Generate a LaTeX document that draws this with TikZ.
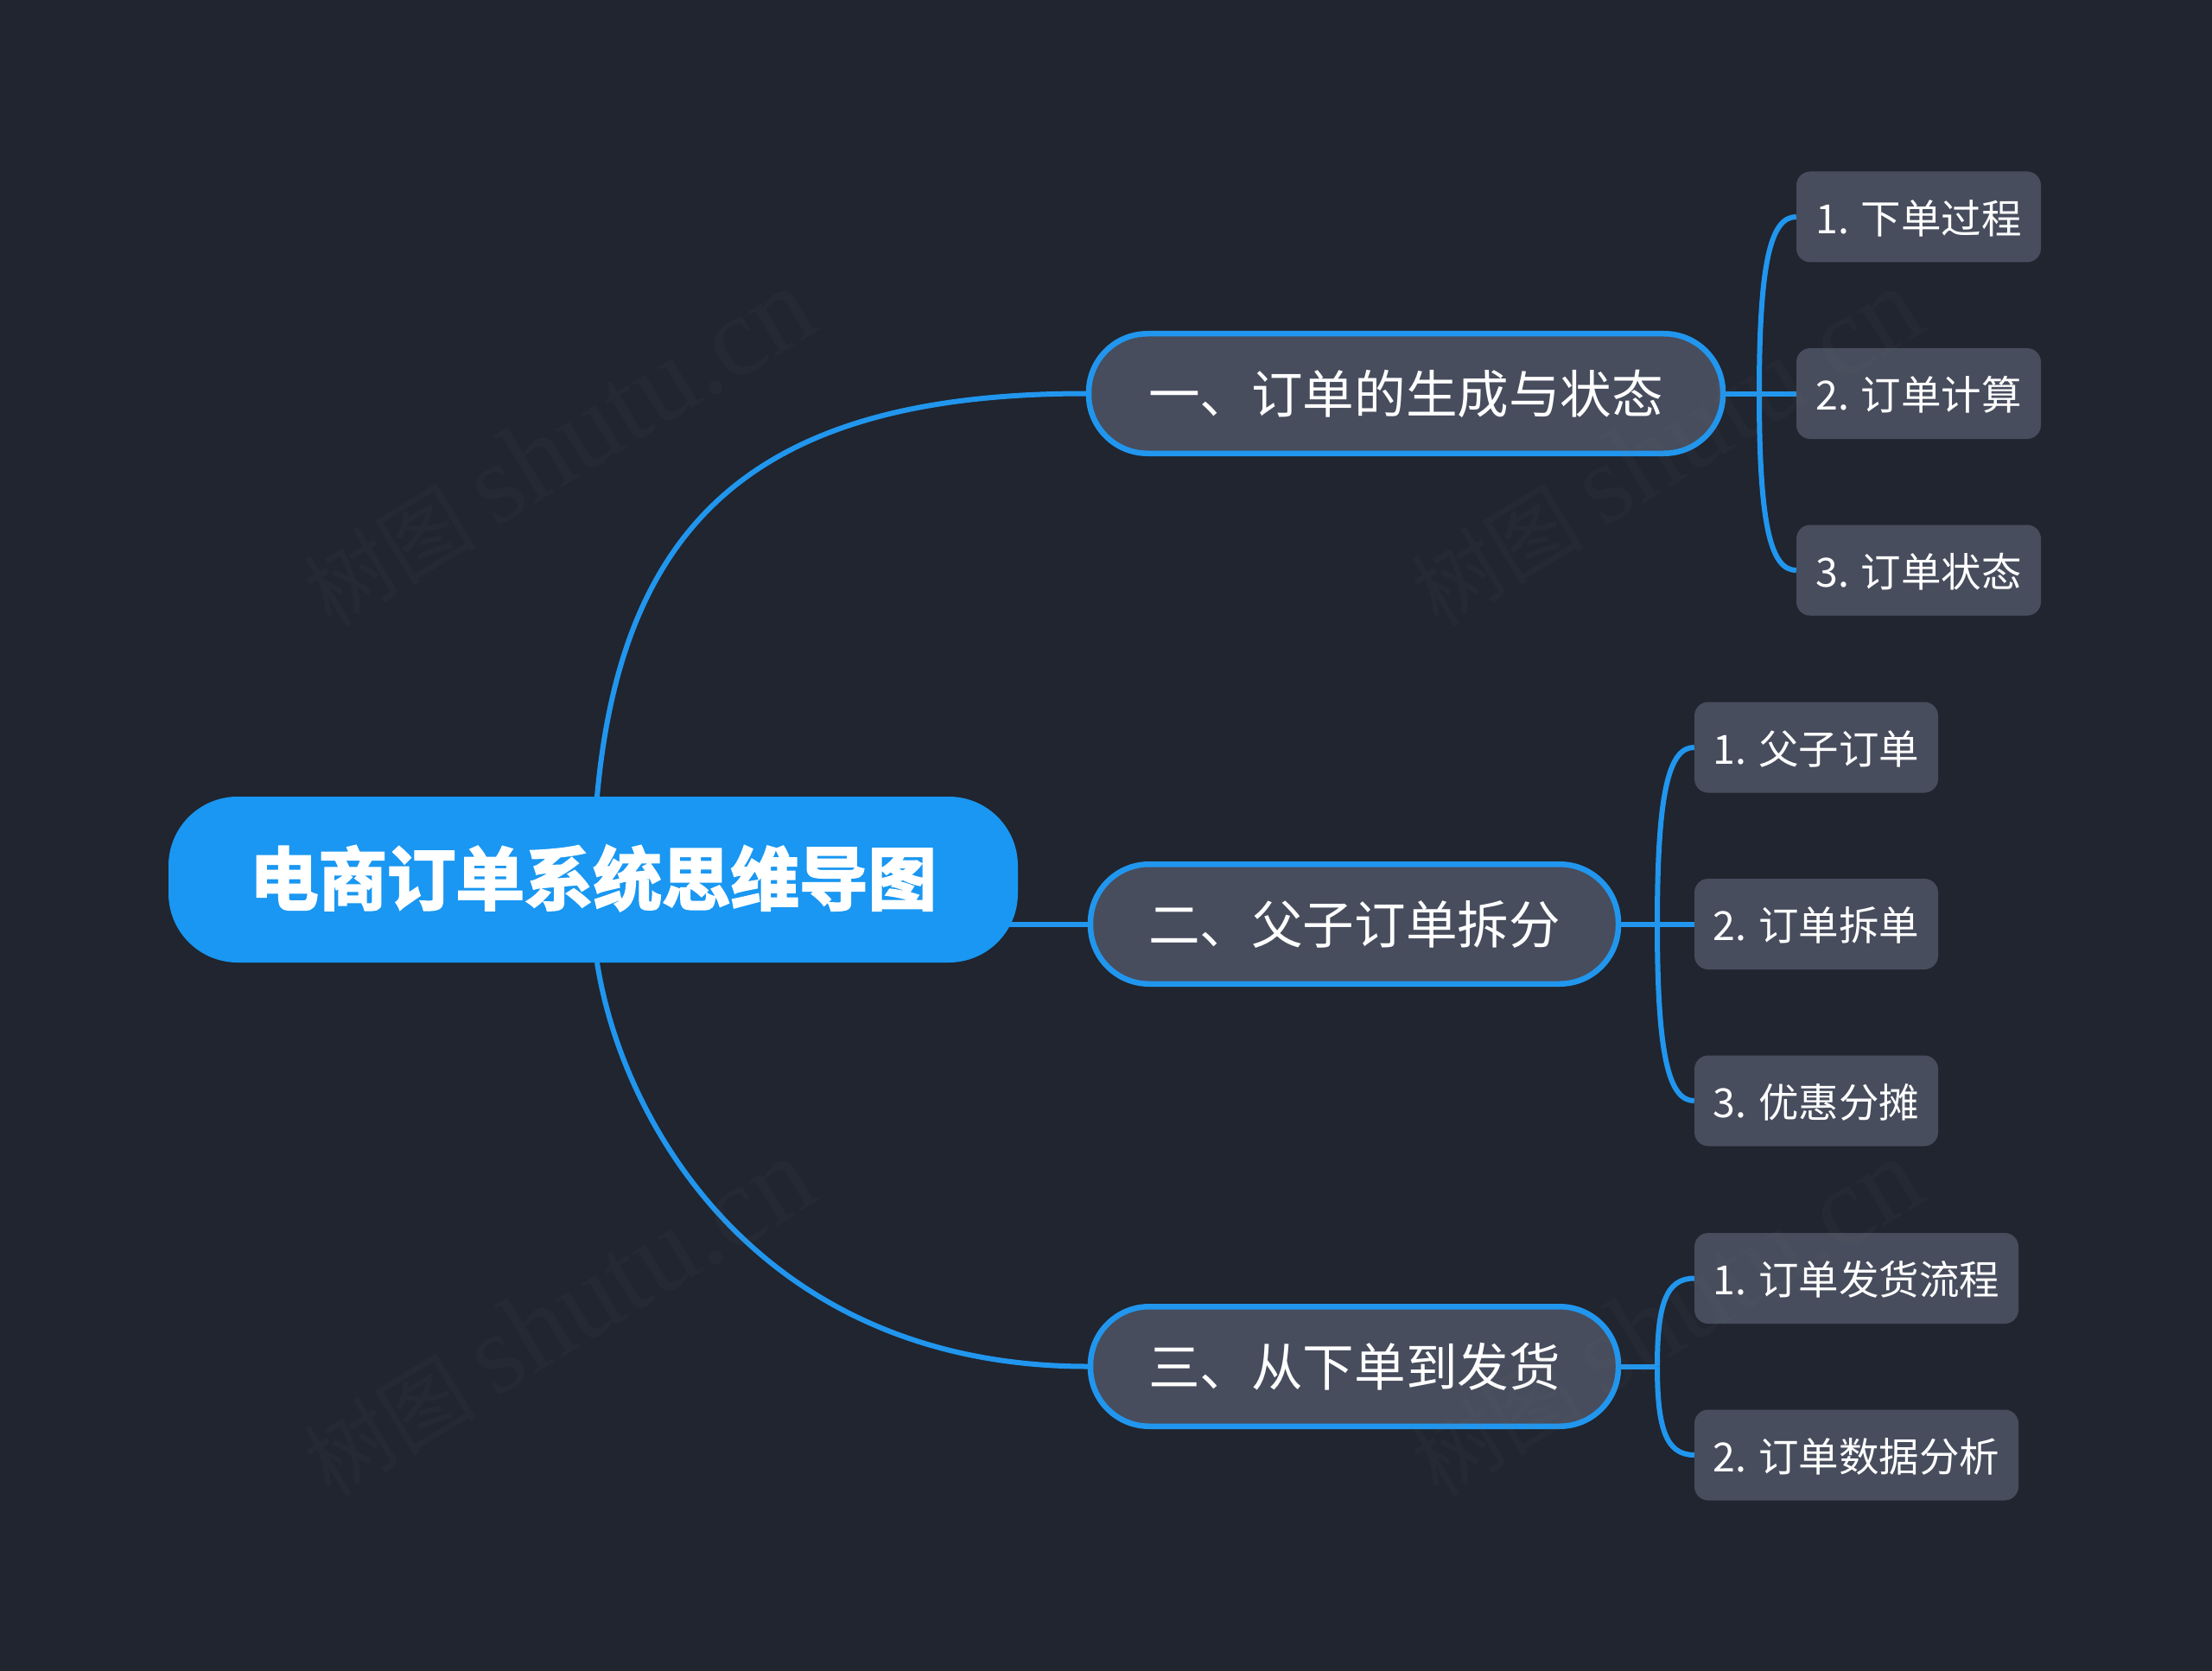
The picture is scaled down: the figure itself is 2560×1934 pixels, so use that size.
\documentclass[tikz,border=0pt]{standalone}
\usepackage{fontspec}
\usetikzlibrary{backgrounds}
\newfontfamily\cjk{Noto Sans CJK SC}
\newfontfamily\cjkb[BoldFont={Noto Sans CJK SC Bold},BoldFeatures={FakeBold=3}]{Noto Sans CJK SC}
\newfontfamily\wmlatin{Liberation Serif}
\definecolor{bgc}{HTML}{20252F}
\definecolor{boxc}{HTML}{474D5D}
\definecolor{linec}{HTML}{2196EE}
\definecolor{rootc}{HTML}{1997F2}
\definecolor{wmc}{HTML}{808080}
\newcommand{\lowered}[1]{\raisebox{-1.6pt}[\height][\depth]{#1}}
\newcommand{\raised}[1]{\raisebox{1.6pt}[\height][\depth]{#1}}
\tikzset{
  rootnode/.style={fill=rootc,rounded corners=80pt,minimum width=983pt,minimum height=192pt,inner sep=0pt,text=white,font={\cjkb\bfseries\fontsize{79.5}{90}\selectfont}},
  branchnode/.style={draw=linec,line width=6.5pt,fill=boxc,rounded corners=68pt,minimum height=138.5pt,inner sep=0pt,text=white,font={\cjk\fontsize{59.6}{70}\selectfont}},
  leafnode/.style={fill=boxc,rounded corners=16pt,minimum height=105pt,inner sep=0pt,text=white,font={\cjk\fontsize{46.5}{56}\selectfont}},
  conn/.style={draw=linec,line width=6pt},
  wmark/.style={text=wmc,opacity=.055,rotate=31.4,inner sep=0pt,font={\cjk\fontsize{100}{130}\selectfont}}
}
\newcommand{\wmtext}{树图 {\wmlatin\fontsize{132}{130}\selectfont shutu.cn}}
\begin{document}
\begin{tikzpicture}[x=1pt,y=-1pt]
\useasboundingbox (0,0) rectangle (2560,1934);
% nodes
\node[rootnode] (root) at (686.5,1018) {\raised{电商订单系统思维导图}};
\node[branchnode,minimum width=734pt] (b1) at (1627,455.5) {一、订单的生成与状态};
\node[branchnode,minimum width=611pt] (b2) at (1567.5,1069.5) {二、父子订单拆分};
\node[branchnode,minimum width=611pt] (b3) at (1567.5,1581.5) {三、从下单到发货};
\node[leafnode,minimum width=283pt] (l11) at (2220.5,251) {\lowered{1. 下单过程}};
\node[leafnode,minimum width=283pt] (l12) at (2220.5,455.5) {\lowered{2. 订单计算}};
\node[leafnode,minimum width=283pt] (l13) at (2220.5,660) {\lowered{3. 订单状态}};
\node[leafnode,minimum width=282pt] (l21) at (2102,865) {\lowered{1. 父子订单}};
\node[leafnode,minimum width=282pt] (l22) at (2102,1069.5) {\lowered{2. 订单拆单}};
\node[leafnode,minimum width=282pt] (l23) at (2102,1274) {\lowered{3. 优惠分摊}};
\node[leafnode,minimum width=375pt] (l31) at (2148.5,1479.5) {\lowered{1. 订单发货流程}};
\node[leafnode,minimum width=375pt] (l32) at (2148.5,1684) {\lowered{2. 订单数据分析}};
\coordinate (s1) at (2036,455.5);
\coordinate (s2) at (1918,1069.5);
\coordinate (s3) at (1918,1581.5);
\coordinate (rt) at (691,922);
\coordinate (rb) at (691,1114);
\begin{pgfonlayer}{background}
\fill[bgc] (0,0) rectangle (2560,1934);
% root connectors
\draw[conn] (rt) .. controls (720,600) and (880,455.5) .. (b1.west);
\draw[conn] (root.center |- b2.west) -- (b2.west);
\draw[conn] (rb) .. controls (720,1300) and (880,1581.5) .. (b3.west);
% group 1
\draw[conn] (b1.east) -- (l12.west);
\draw[conn] (s1) .. controls (2036,300) and (2050,251) .. (l11.west);
\draw[conn] (s1) .. controls (2036,611) and (2050,660) .. (l13.west);
% group 2
\draw[conn] (b2.east) -- (l22.west);
\draw[conn] (s2) .. controls (1918,914) and (1932,865) .. (l21.west);
\draw[conn] (s2) .. controls (1918,1225) and (1932,1274) .. (l23.west);
% group 3
\draw[conn] (b3.east) -- (s3);
\draw[conn] (s3) .. controls (1918,1510) and (1928,1479.5) .. (l31.west);
\draw[conn] (s3) .. controls (1918,1653) and (1928,1684) .. (l32.west);
\end{pgfonlayer}
% watermarks
\node[wmark] (w1) at (646,518) {\wmtext};
\node[wmark] (w2) at (1928,518) {\wmtext};
\node[wmark] (w3) at (646,1525) {\wmtext};
\node[wmark] (w4) at (1928,1525) {\wmtext};
\end{tikzpicture}
\end{document}
